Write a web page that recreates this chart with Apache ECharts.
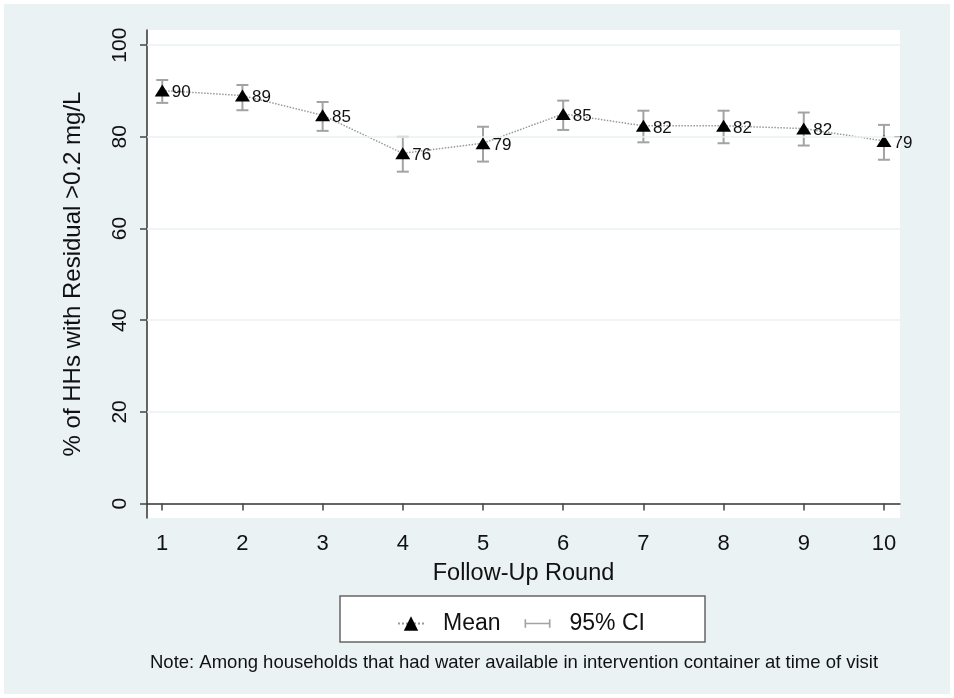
<!DOCTYPE html>
<html>
<head>
<meta charset="utf-8">
<script src="https://cdn.jsdelivr.net/npm/echarts@6/dist/echarts.min.js"></script>
<style>
  html, body { margin: 0; padding: 0; background: #fff; }
  #chart { width: 954px; height: 698px; }
</style>
</head>
<body>
<div id="chart"></div>
<script>
// follow-up rounds and % of households with residual chlorine > 0.2 mg/L
var rounds = [1, 2, 3, 4, 5, 6, 7, 8, 9, 10]
var meanPct = [90.1, 89.0, 84.7, 76.4, 78.6, 85.0, 82.4, 82.4, 81.8, 79.1]
var ciLow = [87.4, 85.8, 81.3, 72.4, 74.6, 81.5, 78.8, 78.6, 78.1, 75.0]
var ciHigh = [92.4, 91.3, 87.6, 80.0, 82.2, 87.9, 85.7, 85.7, 85.3, 82.6]
var yTicks = [0, 20, 40, 60, 80, 100]
var gridValues = [20, 40, 60, 80, 100]

var font = '"Liberation Sans", Arial, sans-serif'
var bg = '#eaf2f3'
var ciColor = '#a3a3a3'

var myChart = echarts.init(document.getElementById('chart'))
myChart.setOption({
    animation: false,
    backgroundColor: '#ffffff',
    textStyle: { fontFamily: font },
    graphic: [
        { type: 'rect', z: -100, shape: { x: 4, y: 4, width: 946, height: 690 }, style: { fill: bg } },
        { type: 'rect', z: 1, shape: { x: 340, y: 596, width: 365, height: 46 },
          style: { fill: '#fff', stroke: '#666', lineWidth: 1.5 } },
        { type: 'text', left: 150, top: 653,
          style: { text: 'Note: Among households that had water available in intervention container at time of visit',
                   fill: '#111', font: '18.5px ' + font } }
    ],
    grid: {
        left: 147, right: 54, top: 30, bottom: 180,
        show: true, backgroundColor: '#fff', borderWidth: 0
    },
    legend: {
        left: 392, top: 607,
        itemWidth: 26, itemHeight: 18, itemGap: 24,
        textStyle: { fontSize: 23, color: '#111', fontFamily: font, padding: [0, 0, 0, 14] },
        data: [
            { name: 'Mean' },
            { name: '95% CI', icon: 'path://M0,0h1.5v8h-1.5Z M0,3.3h24v1.4h-24Z M22.5,0h1.5v8h-1.5Z' }
        ],
        selectedMode: false
    },
    xAxis: {
        type: 'value',
        min: 0.81, max: 10.2,
        name: 'Follow-Up Round',
        nameLocation: 'middle',
        nameGap: 44,
        nameTextStyle: { fontSize: 23.5, color: '#111' },
        axisLine: { lineStyle: { color: '#333', width: 1.5 } },
        axisTick: { length: 7, lineStyle: { color: '#444', width: 1.5 }, customValues: rounds },
        axisLabel: { fontSize: 22, color: '#111', margin: 15, customValues: rounds },
        splitLine: { show: false }
    },
    yAxis: {
        type: 'value',
        min: -3.14, max: 103.3,
        name: '% of HHs with Residual >0.2 mg/L',
        nameLocation: 'middle',
        nameGap: 62,
        nameTextStyle: { fontSize: 24, color: '#111' },
        axisLine: { show: true, lineStyle: { color: '#333', width: 1.5 } },
        axisTick: { show: true, length: 7, lineStyle: { color: '#444', width: 1.5 }, customValues: yTicks },
        axisLabel: { fontSize: 21, color: '#111', rotate: 90, margin: 16, customValues: yTicks },
        splitLine: { show: false }
    },
    series: [
        {
            name: '95% CI',
            type: 'custom',
            itemStyle: { color: ciColor },
            z: 2,
            data: rounds.map((r, i) => [r, ciLow[i], ciHigh[i]]),
            renderItem: function (params, api) {
                var lo = api.coord([api.value(0), api.value(1)])
                var hi = api.coord([api.value(0), api.value(2)])
                var hw = 6
                var st = { stroke: ciColor, lineWidth: 2 }
                return {
                    type: 'group',
                    children: [
                        { type: 'line', shape: { x1: lo[0], y1: lo[1], x2: hi[0], y2: hi[1] }, style: st },
                        { type: 'line', shape: { x1: lo[0] - hw, y1: lo[1], x2: lo[0] + hw, y2: lo[1] }, style: st },
                        { type: 'line', shape: { x1: hi[0] - hw, y1: hi[1], x2: hi[0] + hw, y2: hi[1] }, style: st }
                    ]
                }
            },
            markLine: {
                silent: true,
                symbol: 'none',
                label: { show: false },
                lineStyle: { color: bg, type: 'solid', width: 1.5 },
                data: gridValues.map(v => ({ yAxis: v }))
            }
        },
        {
            name: 'Mean',
            type: 'line',
            z: 3,
            symbol: 'triangle',
            symbolSize: [15, 12],
            itemStyle: { color: '#000' },
            lineStyle: { color: '#999', width: 1.5, type: 'dotted' },
            label: {
                show: true, position: 'right', distance: 2, offset: [0, 2],
                fontSize: 17, color: '#111',
                formatter: p => Math.round(p.value[1])
            },
            data: rounds.map((r, i) => [r, meanPct[i]])
        }
    ]
})
</script>
</body>
</html>
